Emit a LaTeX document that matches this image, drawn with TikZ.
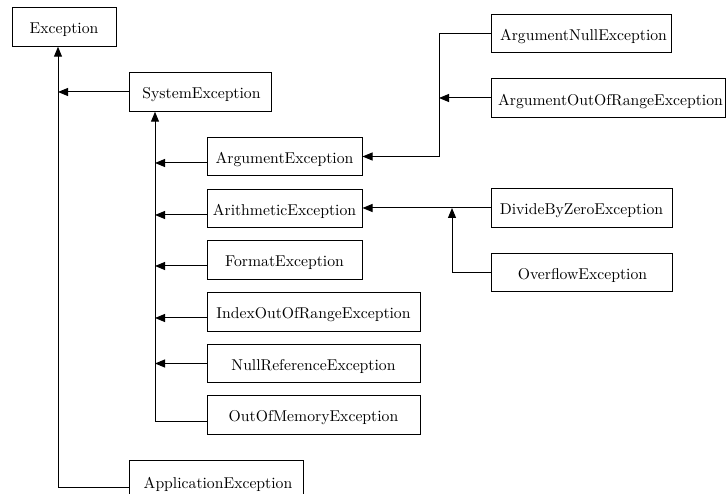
\documentclass[tikz,border=0pt]{standalone}
\usetikzlibrary{arrows.meta}
\newcommand\lbl[1]{\raisebox{-3pt}[\height][\depth]{\scalebox{1.57}{#1}}}
\begin{document}
\begin{tikzpicture}[x=1pt,y=-1pt,
  box/.style={draw,line width=1pt,inner sep=0pt,minimum height=38.5pt,font=\fontsize{10}{12}\selectfont},
  arr/.style={line width=1pt,-{Triangle[length=10pt,width=8pt]}}]
\useasboundingbox (0,0) rectangle (726,494);
\node[box,minimum width=104pt] (exc) at (64,27) {\lbl{Exception}\hspace{7pt}};
\node[box,minimum width=142pt] (sys) at (200,92) {\hspace{3pt}\lbl{SystemException}};
\node[box,minimum width=155pt] (arg) at (284.5,156.5) {\lbl{ArgumentException}\hspace{3pt}};
\node[box,minimum width=155pt] (ari) at (284.5,208.5) {\lbl{ArithmeticException}};
\node[box,minimum width=155pt] (fmt) at (284.5,260) {\lbl{FormatException}\hspace{8pt}};
\node[box,minimum width=213pt] (idx) at (313.5,312) {\lbl{IndexOutOfRangeException}\hspace{3pt}};
\node[box,minimum width=213pt] (nul) at (313.5,363.5) {\lbl{NullReferenceException}\hspace{34pt}};
\node[box,minimum width=213pt] (oom) at (313.5,415) {\lbl{OutOfMemoryException}\hspace{29pt}};
\node[box,minimum width=174pt,minimum height=42pt] (app) at (216,481) {\hspace{4pt}\lbl{ApplicationException}};
\node[box,minimum width=180pt] (anul) at (581,33.5) {\hspace{5pt}\lbl{ArgumentNullException}};
\node[box,minimum width=234pt] (aoor) at (608,98) {\hspace{5pt}\lbl{ArgumentOutOfRangeException}};
\node[box,minimum width=181pt] (dbz) at (581.5,208) {\lbl{DivideByZeroException}};
\node[box,minimum width=181pt] (ovf) at (581.5,272.5) {\hspace{2pt}\lbl{OverflowException}};
\coordinate (t1) at (58,0);
\coordinate (t2) at (155,0);
\coordinate (j1) at (439,0);
\coordinate (j2) at (452,208);
% trunk to Exception
\draw[arr] ([yshift=-6pt]app.west) -| ([xshift=-6pt]exc.south);
\draw[arr] (sys.west) -- (sys.west -| t1);
% trunk to SystemException
\draw[arr] ([yshift=-6.5pt]oom.west) -| ([xshift=-45pt]sys.south);
\draw[arr] ([yshift=-6.5pt]arg.west) -- ([yshift=-6.5pt]arg.west -| t2);
\draw[arr] ([yshift=-6.5pt]ari.west) -- ([yshift=-6.5pt]ari.west -| t2);
\draw[arr] ([yshift=-6pt]fmt.west) -- ([yshift=-6pt]fmt.west -| t2);
\draw[arr] ([yshift=-6pt]idx.west) -- ([yshift=-6pt]idx.west -| t2);
\draw[arr] (nul.west) -- (nul.west -| t2);
% ArgumentException children
\draw[arr] (anul.west) -| (arg.east -| j1) -- (arg.east);
\draw[arr] (aoor.west) -- (aoor.west -| j1);
% ArithmeticException children
\draw[arr] (dbz.west) -- (dbz.west -| ari.east);
\draw[arr] (ovf.west) -| (j2);
\end{tikzpicture}
\end{document}
